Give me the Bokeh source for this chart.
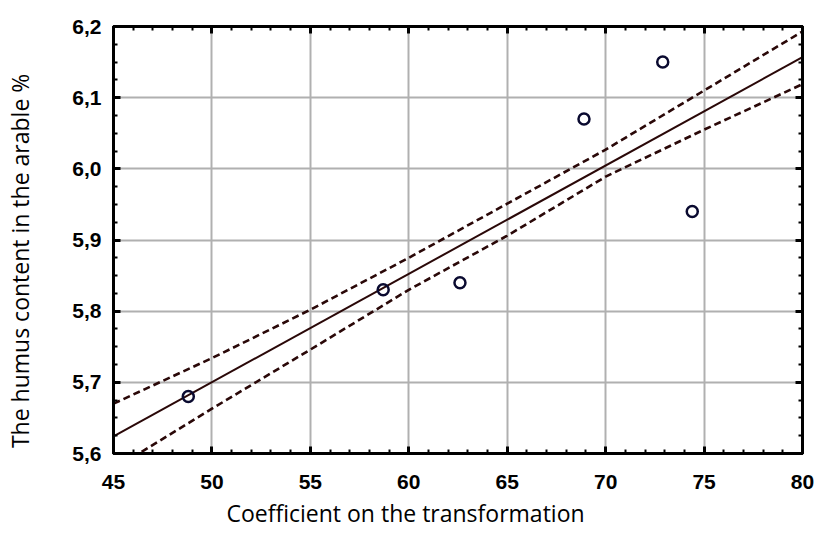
from bokeh.plotting import figure
from bokeh.models import LinearAxis, FixedTicker, CustomJSTickFormatter, Range1d, Title
from bokeh.embed import file_html
from bokeh.resources import INLINE

# Observed points
coef_x = [48.8, 58.7, 62.6, 68.9, 72.9, 74.4]
humus_y = [5.68, 5.83, 5.84, 6.07, 6.15, 5.94]

# Regression line
fit_x = [45, 80]
fit_y = [5.624, 6.157]

# Confidence band
band_x = [45, 50, 55, 60, 65, 70, 75, 80]
band_upper = [5.670, 5.734, 5.802, 5.875, 5.951, 6.027, 6.110, 6.193]
band_lower = [5.578, 5.663, 5.746, 5.830, 5.906, 5.989, 6.055, 6.119]

x_ticks = [45, 50, 55, 60, 65, 70, 75, 80]
y_ticks = [5.6, 5.7, 5.8, 5.9, 6.0, 6.1, 6.2]

x_title = "Coefficient on the transformation"
y_title = "The humus content in the arable %"

p = figure(width=814, height=535, output_backend="svg", toolbar_location=None,
           x_range=Range1d(45, 80), y_range=Range1d(5.6, 6.2),
           min_border_left=113, min_border_right=12, min_border_top=26, min_border_bottom=82)

p.outline_line_color = "black"
p.outline_line_width = 3
p.background_fill_color = "white"

x_minor = [45 + i for i in range(36)]
y_minor = [round(5.6 + 0.025 * i, 3) for i in range(25)]

fmt_y = CustomJSTickFormatter(code="return tick.toFixed(1).replace('.', ',');")
fmt_x = CustomJSTickFormatter(code="return tick.toFixed(0);")

p.xaxis.ticker = FixedTicker(ticks=x_ticks, minor_ticks=x_minor)
p.yaxis.ticker = FixedTicker(ticks=y_ticks, minor_ticks=y_minor)
p.xaxis.formatter = fmt_x
p.yaxis.formatter = fmt_y

for ax in [p.xaxis[0], p.yaxis[0]]:
    ax.axis_line_color = "black"
    ax.axis_line_width = 3
    ax.major_tick_in = 7
    ax.major_tick_out = 0
    ax.major_tick_line_width = 3
    ax.minor_tick_in = 4
    ax.minor_tick_out = 0
    ax.minor_tick_line_width = 2
    ax.major_label_text_font = "Liberation Sans"
    ax.major_label_text_font_style = "bold"
    ax.major_label_text_font_size = "21px"
    ax.major_label_text_color = "black"

p.xaxis.major_label_standoff = 21
p.yaxis.major_label_standoff = 12

# y title as the axis label (trailing no-break spaces shift it slightly down)
p.yaxis.axis_label = y_title + "\u00a0" * 7
p.yaxis.axis_label_standoff = 33
p.yaxis.axis_label_text_font = "Open Sans"
p.yaxis.axis_label_text_font_size = "23px"
p.yaxis.axis_label_text_font_style = "normal"
p.yaxis.axis_label_text_color = "black"

# top and right axes with ticks only
top = LinearAxis(ticker=FixedTicker(ticks=x_ticks, minor_ticks=x_minor))
right = LinearAxis(ticker=FixedTicker(ticks=y_ticks, minor_ticks=y_minor))
for ax in [top, right]:
    ax.axis_line_color = "black"
    ax.axis_line_width = 3
    ax.major_tick_in = 7
    ax.major_tick_out = 0
    ax.major_tick_line_width = 3
    ax.minor_tick_in = 4
    ax.minor_tick_out = 0
    ax.minor_tick_line_width = 2
    ax.major_label_text_font_size = "0px"
    ax.major_label_text_alpha = 0
    ax.major_label_standoff = 0
p.add_layout(top, "above")
p.add_layout(right, "right")

p.xgrid.ticker = FixedTicker(ticks=x_ticks)
p.ygrid.ticker = FixedTicker(ticks=y_ticks)
p.grid.grid_line_color = "#b0b0b0"
p.grid.grid_line_width = 2

band_color = "#2a0808"
p.line(band_x, band_upper, line_color=band_color, line_width=2.6, line_dash="7 4")
p.line(band_x, band_lower, line_color=band_color, line_width=2.6, line_dash="7 4")
p.line(fit_x, fit_y, line_color=band_color, line_width=2)

p.scatter(coef_x, humus_y, marker="circle", size=11, fill_color=None,
          line_color="#0a0a30", line_width=2.5)

# x title as a side-panel title (allows horizontal offset from the frame)
xt = Title(text=x_title, align="left", offset=113, standoff=6, vertical_align="bottom",
           text_font="Open Sans", text_font_size="23px", text_font_style="normal",
           text_color="black")
p.add_layout(xt, "below")

open("out.html", "w").write(file_html(p, INLINE))
